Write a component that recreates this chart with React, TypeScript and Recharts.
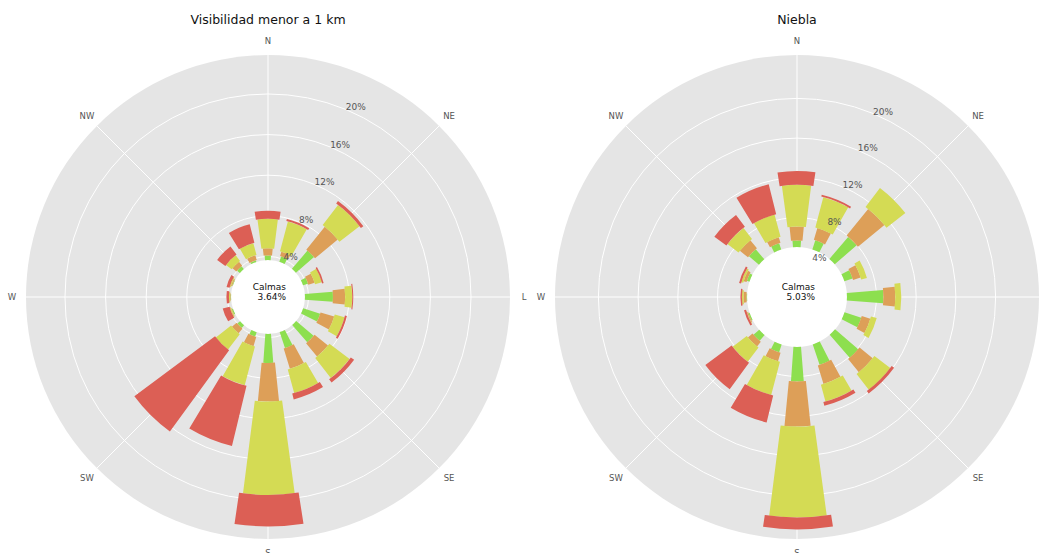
import React from 'react';
import {
  RadialBarChart,
  RadialBar,
  PolarAngleAxis,
  PolarRadiusAxis,
  PolarGrid,
  Sector,
} from 'recharts';

// ---------- data ----------
const DIRS = ['N', 'NNE', 'NE', 'ENE', 'E', 'ESE', 'SE', 'SSE', 'S', 'SSW', 'SW', 'WSW', 'W', 'WNW', 'NW', 'NNW'];
const DIR_LABELS = ['N', '', 'NE', '', 'L', '', 'SE', '', 'S', '', 'SW', '', 'W', '', 'NW', ''];
const TICK_PCTS = [4, 8, 12, 16, 20];
const TICK_LABELS = ['4%', '8%', '12%', '16%', '20%'];

const LEFT_TITLE = 'Visibilidad menor a 1 km';
const LEFT_CALM = 3.64;
const LEFT_CALM_LABEL = '3.64%';
const LEFT_GREEN = [0.46, 0.56, 2.36, 0.51, 2.76, 1.76, 2.26, 1.66, 2.86, 0.46, 0.36, 0.11, 0.06, 0.06, 0.36, 0.16];
const LEFT_ORANGE = [0.7, 0.45, 2.9, 0.65, 1.2, 1.4, 1.7, 2.1, 3.8, 0.95, 0.6, 0.05, 0.05, 0.1, 0.5, 0.5];
const LEFT_YELLOW = [2.9, 3.05, 2.5, 0.7, 0.7, 1.0, 2.5, 2.4, 9.2, 3.95, 1.9, 0.1, 0.1, 0.1, 0.7, 1.2];
const LEFT_RED = [0.8, 0.2, 0.3, 0.15, 0.1, 0.2, 0.4, 0.6, 3.1, 6.1, 9.9, 0.7, 0.25, 0.3, 1.0, 1.9];

const RIGHT_TITLE = 'Niebla';
const RIGHT_CALM = 5.03;
const RIGHT_CALM_LABEL = '5.03%';
const RIGHT_GREEN = [0.67, 0.97, 2.92, 0.87, 3.67, 1.77, 3.07, 2.17, 3.47, 0.82, 0.77, 0.12, 0.07, 0.27, 1.32, 0.67];
const RIGHT_ORANGE = [1.4, 1.25, 3.45, 0.8, 1.2, 0.9, 1.7, 1.95, 4.55, 0.9, 0.6, 0.1, 0.3, 0.3, 1.05, 0.6];
const RIGHT_YELLOW = [4.2, 3.15, 2.4, 0.6, 0.6, 0.6, 2.0, 1.75, 9.15, 3.45, 1.8, 0.05, 0.15, 0.2, 1.4, 2.3];
const RIGHT_RED = [1.4, 0.2, 0.0, 0.0, 0.0, 0.0, 0.3, 0.4, 1.2, 2.8, 3.3, 0.2, 0.15, 0.2, 1.5, 3.1];

// ---------- styles ----------
const SERIES = [
  { key: 'g', color: '#8ddf4f', open: 8.7 },
  { key: 'o', color: '#dd9f58', open: 11.6 },
  { key: 'y', color: '#d4db54', open: 15.0 },
  { key: 'r', color: '#dc5f55', open: 17.3 },
];
const FONT = '"DejaVu Sans", Verdana, sans-serif';
const H = 553;
const CY = 297;
const OUTER = 242;
const HALF_BAND = 180 / DIRS.length; // 11.25 deg
const START_ANGLE = 90 - HALF_BAND;

const buildData = (g: number[], o: number[], y: number[], r: number[]) =>
  DIRS.map((dir, i) => ({ dir, g: g[i], o: o[i], y: y[i], r: r[i] }));

const makeShape = (openDeg: number) => (p: any) => {
  if (!p || p.outerRadius == null || p.outerRadius <= p.innerRadius) return <g />;
  const mid = (p.startAngle + p.endAngle) / 2;
  return (
    <Sector
      cx={p.cx}
      cy={p.cy}
      innerRadius={p.innerRadius}
      outerRadius={p.outerRadius}
      startAngle={mid - openDeg / 2}
      endAngle={mid + openDeg / 2}
      fill={p.fill}
      stroke="none"
    />
  );
};

function Rose(props: {
  left: number;
  width: number;
  cx: number;
  data: any[];
  calm: number;
  calmLabel: string;
  rmax: number;
  title: string;
  hideLabels?: string[];
}) {
  const { left, width, cx, data, calm, calmLabel, rmax, title, hideLabels = [] } = props;
  const inner = (OUTER * calm) / rmax;
  const ticks = TICK_PCTS.map((p) => p - calm);
  const majorAngles = DIR_LABELS.map((l, i) => (l ? 90 - i * 22.5 : null)).filter((a) => a !== null) as number[];

  const RadiusTick = (tp: any) => {
    const idx = ticks.findIndex((t) => Math.abs(t - tp.payload.value) < 1e-6);
    return (
      <text x={tp.x} y={tp.y + 1} textAnchor="start" fontSize={9} fill="#555" fontFamily={FONT}>
        {TICK_LABELS[idx]}
      </text>
    );
  };

  const AngleTick = (tp: any) => {
    const label = DIR_LABELS[tp.index];
    if (!label || hideLabels.includes(label)) return <g />;
    // the category tick sits at the band start; move it to the band centre
    const dx = tp.x - cx;
    const dy = tp.y - CY;
    const r = Math.sqrt(dx * dx + dy * dy);
    const a = Math.atan2(-dy, dx) + (HALF_BAND * Math.PI) / 180;
    const x = cx + r * Math.cos(a);
    const y = CY - r * Math.sin(a);
    return (
      <text x={x} y={y} textAnchor="middle" dominantBaseline="central" fontSize={8.5} fill="#555" fontFamily={FONT}>
        {label}
      </text>
    );
  };

  return (
    <div style={{ position: 'absolute', left, top: 0, width, height: H }}>
      <div
        style={{
          position: 'absolute',
          left: cx - OUTER,
          top: CY - OUTER,
          width: OUTER * 2,
          height: OUTER * 2,
          borderRadius: '50%',
          background: '#e5e5e5',
        }}
      />
      <div
        style={{
          position: 'absolute',
          left: cx - inner,
          top: CY - inner,
          width: inner * 2,
          height: inner * 2,
          borderRadius: '50%',
          background: '#ffffff',
        }}
      />
      <div style={{ position: 'absolute', left: 0, top: 0 }}>
        <RadialBarChart
          width={width}
          height={H}
          cx={cx}
          cy={CY}
          innerRadius={inner}
          outerRadius={OUTER}
          startAngle={START_ANGLE}
          endAngle={START_ANGLE - 360}
          layout="centric"
          data={data}
          barCategoryGap="0%"
          barGap={0}
          margin={{ top: 0, right: 0, bottom: 0, left: 0 }}
        >
          {SERIES.map((s) => (
            <RadialBar
              key={s.key}
              dataKey={s.key}
              stackId="a"
              fill={s.color}
              isAnimationActive={false}
              shape={makeShape(s.open)}
            />
          ))}
          <PolarGrid gridType="circle" stroke="#ffffff" strokeWidth={1} polarAngles={majorAngles} />
          <PolarAngleAxis type="category" dataKey="dir" axisLine={false} tickLine={false} tickSize={14} tick={AngleTick} />
          <PolarRadiusAxis
            type="number"
            domain={[0, rmax - calm]}
            ticks={ticks}
            angle={67.5}
            axisLine={false}
            tickLine={false}
            allowDataOverflow
            tick={RadiusTick}
          />
        </RadialBarChart>
      </div>
      <div
        style={{
          position: 'absolute',
          left: cx - 200,
          width: 400,
          top: 12,
          textAlign: 'center',
          fontFamily: FONT,
          fontSize: 12.5,
          lineHeight: '16px',
          color: '#111',
        }}
      >
        {title}
      </div>
      <div
        style={{
          position: 'absolute',
          left: cx - 60,
          width: 78,
          top: CY - 14,
          textAlign: 'right',
          fontFamily: FONT,
          fontSize: 9,
          lineHeight: '9.5px',
          color: '#111',
        }}
      >
        <div>Calmas</div>
        <div>{calmLabel}</div>
      </div>
    </div>
  );
}

export default function App() {
  const leftData = buildData(LEFT_GREEN, LEFT_ORANGE, LEFT_YELLOW, LEFT_RED);
  const rightData = buildData(RIGHT_GREEN, RIGHT_ORANGE, RIGHT_YELLOW, RIGHT_RED);
  return (
    <div style={{ position: 'absolute', left: 0, top: 0, width: 1044, height: 553, background: '#fff', overflow: 'hidden' }}>
      <Rose left={0} width={540} cx={268} data={leftData} calm={LEFT_CALM} calmLabel={LEFT_CALM_LABEL} rmax={23.84} title={LEFT_TITLE} />
      <Rose
        left={522}
        width={522}
        cx={275}
        data={rightData}
        calm={RIGHT_CALM}
        calmLabel={RIGHT_CALM_LABEL}
        rmax={24.37}
        title={RIGHT_TITLE}
        hideLabels={['L']}
      />
    </div>
  );
}
